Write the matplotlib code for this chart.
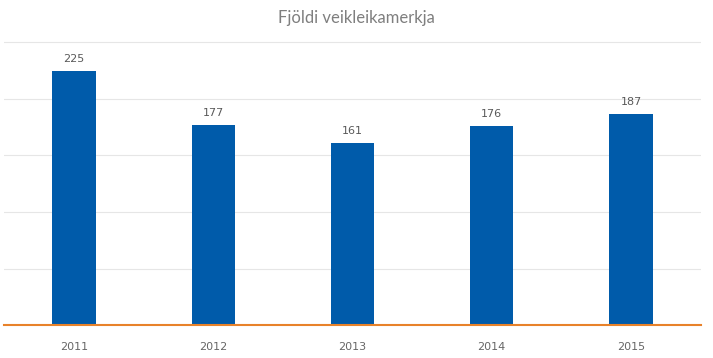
import matplotlib.pyplot as plt

years = ["2011", "2012", "2013", "2014", "2015"]
counts = [225, 177, 161, 176, 187]

fig = plt.figure(figsize=(7.13, 3.58), dpi=100)
ax = fig.add_axes([4.4 / 713, 33 / 358, 696.2 / 713, 282.5 * 255 / 250 / 358])

x = range(len(years))
bars = ax.bar(x, counts, width=0.31, color="#005BAA", zorder=3)
ax.set_xlim(-0.5, len(years) - 0.5)
ax.set_ylim(0, 255)

# light gridlines, no y labels
ax.set_yticks([50, 100, 150, 200, 250])
ax.yaxis.grid(True, color="#E6E6E6", linewidth=0.8, zorder=0)
ax.tick_params(axis="y", left=False, labelleft=False)
ax.tick_params(axis="x", bottom=False, pad=9, labelsize=8, labelcolor="#666666")
ax.set_xticks(list(x))
ax.set_xticklabels(years)

for s in ["top", "right", "left"]:
    ax.spines[s].set_visible(False)
ax.spines["bottom"].set_color("#E8822A")
ax.spines["bottom"].set_linewidth(1.5)
ax.spines["bottom"].set_zorder(4)

for b, v in zip(bars, counts):
    ax.annotate(str(v), (b.get_x() + b.get_width() / 2, v), xytext=(0, 5),
                textcoords="offset points", ha="center", va="bottom",
                fontsize=8, color="#595959")

fig.text(0.5, 1 - 18 / 358, "Fjöldi veikleikamerkja", ha="center", va="center",
         fontsize=12, color="#7F7F7F", family="Lato")

fig.savefig("out.png", dpi=100)
